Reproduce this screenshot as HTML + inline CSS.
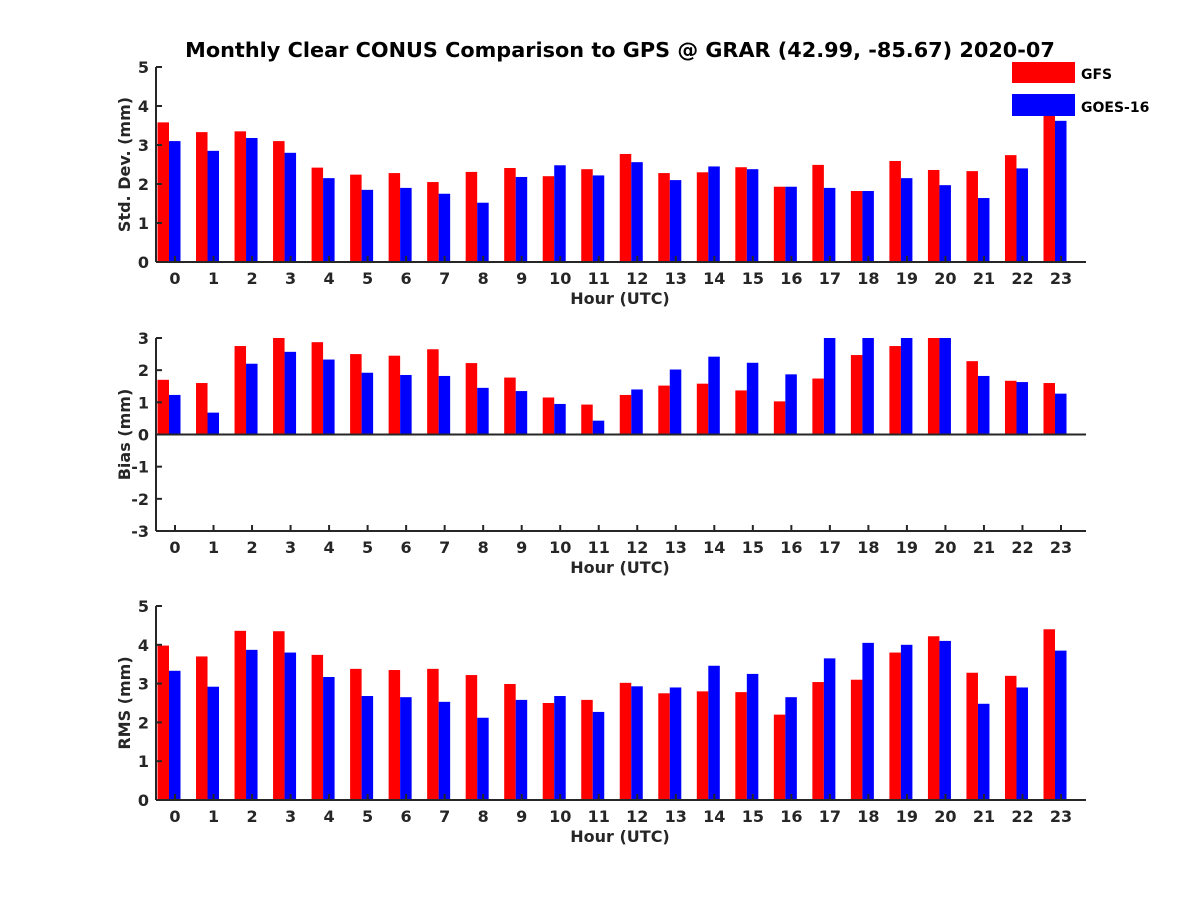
<!DOCTYPE html>
<html><head><meta charset="utf-8"><style>
body{margin:0;background:#fff}
svg text{font-family:"DejaVu Sans","Liberation Sans",sans-serif;font-weight:bold;fill:#262626}
</style></head><body>
<svg id="c" width="1200" height="900" xmlns="http://www.w3.org/2000/svg">
<text x="620" y="57" font-size="20.8" text-anchor="middle" style="fill:#000">Monthly Clear CONUS Comparison to GPS @ GRAR (42.99, -85.67) 2020-07</text>
</svg>
<script>
const hours = [0,1,2,3,4,5,6,7,8,9,10,11,12,13,14,15,16,17,18,19,20,21,22,23];
const stdGFS = [3.58,3.33,3.35,3.1,2.42,2.24,2.28,2.05,2.31,2.41,2.2,2.38,2.77,2.28,2.3,2.43,1.93,2.49,1.82,2.59,2.36,2.33,2.74,3.95];
const stdGOES = [3.1,2.85,3.18,2.8,2.15,1.85,1.9,1.75,1.52,2.18,2.48,2.22,2.56,2.1,2.45,2.38,1.93,1.9,1.82,2.15,1.97,1.64,2.4,3.62];
const biasGFS = [1.7,1.6,2.75,3,2.87,2.5,2.45,2.65,2.22,1.77,1.15,0.93,1.23,1.52,1.58,1.37,1.03,1.74,2.47,2.75,3,2.28,1.67,1.6];
const biasGOES = [1.23,0.68,2.2,2.57,2.33,1.92,1.85,1.82,1.45,1.35,0.95,0.43,1.4,2.02,2.42,2.23,1.87,3,3,3,3,1.82,1.63,1.27];
const rmsGFS = [3.98,3.7,4.36,4.35,3.74,3.38,3.35,3.38,3.22,2.99,2.5,2.58,3.02,2.75,2.8,2.78,2.2,3.04,3.1,3.8,4.22,3.28,3.2,4.4];
const rmsGOES = [3.33,2.92,3.87,3.8,3.17,2.68,2.65,2.53,2.12,2.58,2.68,2.27,2.93,2.9,3.46,3.25,2.65,3.65,4.05,4.0,4.1,2.48,2.9,3.85];
const stdTicks = [0,1,2,3,4,5];
const biasTicks = [-3,-2,-1,0,1,2,3];
const rmsTicks = [0,1,2,3,4,5];

const NS="http://www.w3.org/2000/svg", svg=document.getElementById('c');
function mk(t,a,p){const e=document.createElementNS(NS,t);for(const k in a)e.setAttribute(k,a[k]);(p||svg).appendChild(e);return e;}
const X0=156,X1=1086;
const xs=h=>175+h*(1061-175)/23;
function panel(name,top,bot,ymin,ymax,ticks,g1,g2,label){
  const g=mk('g',{});
  
  
  const ys=v=>bot-(Math.max(ymin,Math.min(ymax,v))-ymin)/(ymax-ymin)*(bot-top);
  const y0=ys(Math.max(ymin,0));
  hours.forEach((h,i)=>{
    const a=mk('rect',{x:xs(h)-17.5,y:Math.min(ys(g1[i]),y0),width:11.5,height:Math.abs(y0-ys(g1[i])),fill:'#ff0000'},g);
    
    
    const b=mk('rect',{x:xs(h)-6,y:Math.min(ys(g2[i]),y0),width:11.5,height:Math.abs(y0-ys(g2[i])),fill:'#0000ff'},g);
    
    
  });
  mk('line',{x1:X0,y1:top,x2:X0,y2:bot,stroke:'#262626','stroke-width':2},g);
  mk('line',{x1:X0,y1:bot,x2:X1,y2:bot,stroke:'#262626','stroke-width':2},g);
  if(ymin<0) mk('line',{x1:X0,y1:y0,x2:X1,y2:y0,stroke:'#262626','stroke-width':2},g);
  ticks.forEach(t=>{
    mk('line',{x1:X0,y1:ys(t),x2:X0+6,y2:ys(t),stroke:'#262626','stroke-width':2},g);
    const tx=mk('text',{x:X0-7,y:ys(t)+6,'font-size':16,'text-anchor':'end'},g);tx.textContent=t;
    
    
  });
  hours.forEach(h=>{
    mk('line',{x1:xs(h),y1:bot,x2:xs(h),y2:bot-6,stroke:'#262626','stroke-width':2},g);
    const tx=mk('text',{x:xs(h),y:bot+22,'font-size':16,'text-anchor':'middle'},g);tx.textContent=h;
    
    
  });
  const xl=mk('text',{x:620,y:bot+42,'font-size':16,'text-anchor':'middle'},g);xl.textContent='Hour (UTC)';
  
  
  const cy=(top+bot)/2;
  const yl=mk('text',{x:130,y:cy,'font-size':16,'text-anchor':'middle',transform:`rotate(-90 130 ${cy})`},g);yl.textContent=label;
  
  
}
panel('std',67,262,0,5,stdTicks,stdGFS,stdGOES,'Std. Dev. (mm)');
panel('bias',338,531,-3,3,biasTicks,biasGFS,biasGOES,'Bias (mm)');
panel('rms',606,800,0,5,rmsTicks,rmsGFS,rmsGOES,'RMS (mm)');
const lg=mk('g',{});


mk('rect',{x:1012,y:62,width:63,height:21,fill:'#ff0000'},lg);
mk('rect',{x:1012,y:94,width:63,height:22,fill:'#0000ff'},lg);
const l1=mk('text',{x:1081,y:79,'font-size':14,style:'fill:#000'},lg);l1.textContent='GFS';


const l2=mk('text',{x:1081,y:112,'font-size':14,style:'fill:#000'},lg);l2.textContent='GOES-16';


</script>
</body></html>
